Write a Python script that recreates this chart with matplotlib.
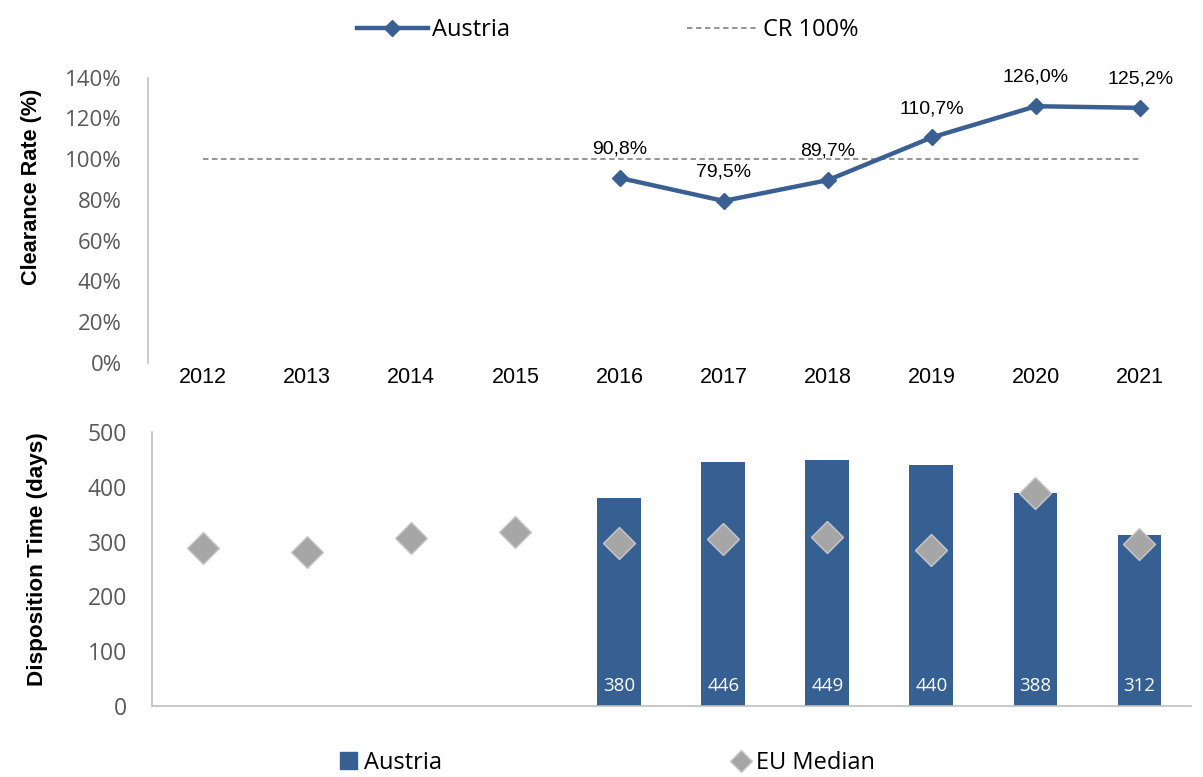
import matplotlib
matplotlib.use("Agg")
import matplotlib.pyplot as plt
from matplotlib.lines import Line2D
from matplotlib.patches import Patch
import numpy as np

# ---- data ----
years = ["2012", "2013", "2014", "2015", "2016", "2017", "2018", "2019", "2020", "2021"]
cr_years = ["2016", "2017", "2018", "2019", "2020", "2021"]
cr_austria = [90.8, 79.5, 89.7, 110.7, 126.0, 125.2]
cr_target = 100.0
dt_years = ["2016", "2017", "2018", "2019", "2020", "2021"]
dt_austria = [380, 446, 449, 440, 388, 312]
dt_eu_median = [288, 281, 307, 317, 298, 304, 309, 285, 389, 296]

BLUE = "#3a6093"
BAR = "#366092"
GREY = "#a6a6a6"
DASH = "#8c8c8c"
TICK = "#595959"
SANS = ["Open Sans", "DejaVu Sans"]
ARIAL = ["Liberation Sans", "DejaVu Sans"]

x_all = np.arange(len(years))
x_cr = [years.index(y) for y in cr_years]
x_dt = [years.index(y) for y in dt_years]

fig = plt.figure(figsize=(12.03, 7.77), dpi=100)

# ---- top panel: clearance rate ----
ax1 = fig.add_axes([0.123, 0.533, 0.868, 0.367])
ax1.plot([x_all[0], x_all[-1]], [cr_target, cr_target], ls=(0, (3, 2)),
         color=DASH, lw=1.3)
ax1.plot(x_cr, cr_austria, color=BLUE, lw=3.2, marker="D", markersize=8,
         solid_capstyle="round")
for xi, v in zip(x_cr, cr_austria):
    ax1.text(xi, v + 10, f"{v:.1f}%".replace(".", ","), ha="center",
             va="bottom", fontsize=14, family=ARIAL, color="black")
ax1.set_xlim(-0.53, 9.5)
ax1.set_ylim(0, 140)
ax1.set_yticks(np.arange(0, 141, 20))
ax1.set_yticklabels([f"{t}%" for t in range(0, 141, 20)], family=SANS,
                    fontsize=16, color=TICK)
ax1.set_xticks(x_all)
ax1.set_xticklabels(years, family=ARIAL, fontsize=15.5, color="black")
ax1.tick_params(axis="y", length=0, pad=19)
ax1.tick_params(axis="x", length=0, pad=3)
for s in ("top", "right", "bottom"):
    ax1.spines[s].set_visible(False)
ax1.spines["left"].set_color("#bfbfbf")
ax1.spines["left"].set_linewidth(1.2)
ax1.set_ylabel("Clearance Rate (%)", family=ARIAL, fontsize=15.6,
               fontweight="bold")
ax1.yaxis.set_label_coords(-0.1015, 0.618)

# ---- bottom panel: disposition time ----
ax2 = fig.add_axes([0.1264, 0.0914, 0.864, 0.3526])
ax2.bar(x_dt, dt_austria, width=0.42, color=BAR, zorder=2)
for xi, v in zip(x_dt, dt_austria):
    ax2.text(xi, 20, str(v), ha="center", va="bottom", fontsize=13.5,
             family=SANS, color="white", zorder=4)
ax2.plot(x_all, dt_eu_median, ls="none", marker="D", markersize=16,
         color=GREY, markeredgecolor="#c8c8c8", markeredgewidth=1, zorder=3)
ax2.set_xlim(-0.49, 9.5)
ax2.set_ylim(0, 500)
ax2.set_yticks(np.arange(0, 501, 100))
ax2.set_yticklabels([str(t) for t in range(0, 501, 100)], family=SANS,
                    fontsize=16.5, color=TICK)
ax2.set_xticks([])
ax2.tick_params(length=0, pad=18)
for s in ("top", "right"):
    ax2.spines[s].set_visible(False)
for s in ("left", "bottom"):
    ax2.spines[s].set_color("#bfbfbf")
    ax2.spines[s].set_linewidth(1.2)
ax2.set_ylabel("Disposition Time (days)", family=ARIAL, fontsize=16.2,
               fontweight="bold")
ax2.yaxis.set_label_coords(-0.100, 0.535)

# ---- legends ----
h_line = Line2D([], [], color=BLUE, lw=3.2, marker="D", markersize=8)
h_cr = Line2D([], [], color=DASH, lw=1.3, ls=(0, (3, 2)))
fig.legend([h_line, h_cr], ["Austria", "CR 100%"], loc="center",
           bbox_to_anchor=(0.505, 0.961), ncol=2, frameon=False,
           prop={"family": SANS, "size": 17}, handlelength=3.0,
           handletextpad=0.2, columnspacing=7.5)

h_bar = Patch(color=BAR)
h_eu = Line2D([], [], ls="none", marker="D", markersize=11, color=GREY,
              markeredgecolor="#c8c8c8")
fig.legend([h_bar, h_eu], ["Austria", "EU Median"], loc="center",
           bbox_to_anchor=(0.505, 0.018), ncol=2, frameon=False,
           prop={"family": SANS, "size": 17}, handlelength=0.7,
           handleheight=0.7, handletextpad=0.3, columnspacing=12.3)

fig.savefig("out.png", dpi=100, facecolor="white")
